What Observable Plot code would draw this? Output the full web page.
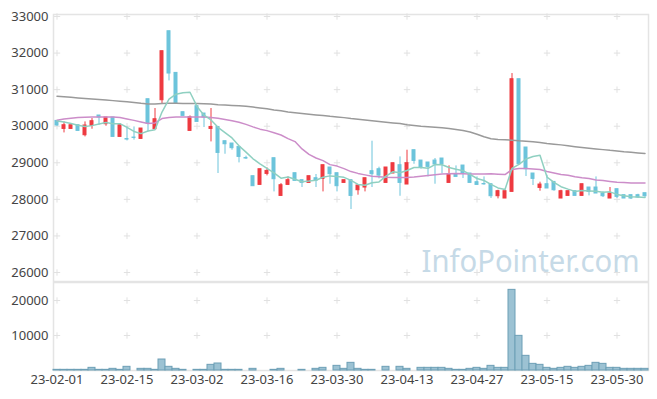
<!DOCTYPE html>
<html><head><meta charset="utf-8">
<script src="https://cdn.jsdelivr.net/npm/d3@7"></script>
<script src="https://cdn.jsdelivr.net/npm/@observablehq/plot@0.6"></script>
<style>
body{margin:0;background:#fff;font-family:"Noto Sans",sans-serif;}
#chart svg{display:block;}
</style></head><body><div id="chart"></div>
<script>
const dates = ["23-02-01","23-02-02","23-02-03","23-02-06","23-02-07","23-02-08","23-02-09","23-02-10","23-02-13","23-02-14","23-02-15","23-02-16","23-02-17","23-02-20","23-02-21","23-02-22","23-02-23","23-02-24","23-02-27","23-02-28","23-03-02","23-03-03","23-03-06","23-03-07","23-03-08","23-03-09","23-03-10","23-03-13","23-03-14","23-03-15","23-03-16","23-03-17","23-03-20","23-03-21","23-03-22","23-03-23","23-03-24","23-03-27","23-03-28","23-03-29","23-03-30","23-03-31","23-04-03","23-04-04","23-04-05","23-04-06","23-04-07","23-04-10","23-04-11","23-04-12","23-04-13","23-04-14","23-04-17","23-04-18","23-04-19","23-04-20","23-04-21","23-04-24","23-04-25","23-04-26","23-04-27","23-04-28","23-05-02","23-05-03","23-05-04","23-05-08","23-05-09","23-05-10","23-05-11","23-05-12","23-05-15","23-05-16","23-05-17","23-05-18","23-05-19","23-05-22","23-05-23","23-05-24","23-05-25","23-05-26","23-05-30","23-05-31","23-06-01","23-06-02","23-06-05"];

const opens = [30145,29926,29926,30027,29754,30008,30293,30055,30238,29708,
 29650,29690,29653,30738,29918,30711,32597,31458,30383,29872,
 30547,30347,29926,29980,29590,29527,29434,29130,28633,28396,
 28696,29125,28094,28396,28715,28524,28450,28578,28560,28871,
 28715,28450,28524,28250,28324,28770,28824,28450,28707,28934,
 28406,29344,29061,29008,29061,29117,28450,28688,28925,28707,
 28469,28420,28414,28086,28023,28205,31285,29418,28707,28313,
 28414,28477,28023,28095,28223,28095,28324,28324,28160,28023,
 28278,28114,28114,28114,28168];
const closes = [30020,30027,30027,29872,30019,30137,30238,30238,29708,30027,
 29636,29680,29937,30074,30191,32051,31441,30620,30282,30246,
 30118,30238,29980,29270,29508,29400,29161,29117,28360,28824,
 28778,28551,28387,28524,28505,28450,28633,28505,28934,28688,
 28360,28524,28094,28379,28578,28688,28650,28871,28988,28450,
 28988,29051,28871,28888,28953,28961,28688,28614,28707,28450,
 28395,28410,28086,28223,28223,31285,28961,28824,28560,28405,
 28297,28250,28223,28223,28095,28414,28205,28160,28086,28160,
 28068,28023,28023,28050,28086];
const highs = [30150,30118,30027,30027,30118,30210,30293,30238,30238,30074,
 29980,29980,29937,30738,30484,32051,32597,31458,30383,30282,
 30547,30347,30484,29980,29590,29527,29434,29180,28633,28824,
 28860,29125,28432,28614,28715,28524,28633,28680,28934,28871,
 28715,28524,28524,28379,28578,29590,28880,28871,28988,29161,
 29344,29344,29061,29008,29117,29117,28915,28915,28925,28707,
 28614,28614,28414,28250,28250,31440,31285,29418,28707,28469,
 28660,28477,28250,28223,28223,28414,28324,28614,28205,28324,
 28278,28114,28114,28140,28168];
const lows = [30000,29817,29926,29872,29708,29918,30027,30000,29708,29708,
 29598,29620,29653,29844,29918,30620,31239,30620,30282,29872,
 30118,29964,29571,28707,29234,29344,28997,29090,28360,28396,
 28642,28204,28094,28378,28505,28324,28450,28324,28204,28414,
 28204,28450,27723,28114,28204,28324,28560,28450,28707,28085,
 28406,28960,28824,28614,28414,28700,28450,28614,28570,28450,
 28378,28387,28023,28013,28023,28205,28961,28624,28378,28223,
 28297,28223,28023,28095,28095,28095,28095,28160,28050,28023,
 28023,28023,27995,28023,28040];
const volumes = [190,190,190,190,190,760,190,190,475,190,
 1050,0,475,475,190,3140,1050,475,190,0,
 190,190,1620,2000,190,190,190,0,475,0,
 0,190,475,0,0,190,0,475,760,0,
 1330,475,2190,475,190,190,0,1050,0,1050,
 475,0,760,760,760,760,475,190,190,475,
 760,475,1330,760,760,23040,9900,4190,1900,1620,
 760,475,760,1050,760,1050,1330,2190,1900,760,
 760,475,475,475,475];
// 5-day MA for the first four days (earlier closes not shown)
const ma5Head = [30145,30118,30074,30027];
const ma20 = [30164,30200,30220,30238,30245,30250,30255,30255,30250,30238,
 30200,30160,30118,30074,30090,30210,30240,30255,30255,30255,
 30255,30255,30240,30220,30183,30150,30109,30050,29982,29920,
 29880,29820,29760,29660,29580,29380,29230,29130,29060,28950,
 28910,28840,28760,28710,28670,28633,28620,28606,28600,28597,
 28600,28610,28630,28652,28675,28696,28700,28707,28700,28696,
 28696,28696,28700,28688,28679,28816,28843,28843,28830,28816,
 28760,28720,28680,28660,28620,28590,28570,28530,28515,28490,
 28469,28460,28450,28450,28450];
const ma120 = [30820,30805,30790,30775,30760,30745,30730,30715,30700,30685,
 30670,30650,30625,30605,30605,30620,30625,30625,30622,30620,
 30618,30615,30605,30590,30580,30570,30560,30547,30525,30500,
 30475,30445,30420,30391,30370,30350,30330,30310,30290,30270,
 30255,30235,30210,30191,30170,30150,30130,30110,30090,30074,
 30040,30020,30000,29985,29970,29955,29937,29910,29880,29844,
 29780,29710,29660,29640,29630,29617,29600,29590,29575,29555,
 29530,29510,29490,29465,29440,29418,29400,29380,29360,29340,
 29325,29305,29290,29270,29253];
const priceTicks = [26000,27000,28000,29000,30000,31000,32000,33000];
const volumeTicks = [10000,20000];
const dateTicks = [0,10,20,30,40,50,60,70,80];
const watermark = "InfoPointer.com";

const rows = dates.map((d, i) => ({
  i, date: d, o: opens[i], h: highs[i], l: lows[i], c: closes[i], v: volumes[i],
  ma5: i < 4 ? ma5Head[i] : d3.mean(closes.slice(i - 4, i + 1)),
  ma20: ma20[i], ma120: ma120[i]
}));

const up = "#ee3a40", down = "#6cc4db";
const col = d => d.c >= d.o ? up : down;
const gridColor = "#e1e1e1";
const frameColor = "#e4e4e4";
const style = {fontFamily: "'Noto Sans', sans-serif", fontSize: "13px", color: "#444", background: "#fff"};

const mainGrid = dateTicks.flatMap(x => priceTicks.map(y => ({x, y})));
const volGrid = dateTicks.flatMap(x => volumeTicks.map(y => ({x, y})));

const main = Plot.plot({
  width: 657, height: 282, marginLeft: 53, marginRight: 9, marginTop: 14, marginBottom: 1,
  style,
  x: {type: "linear", domain: [-0.5, 84.5], axis: null},
  y: {domain: [25754, 33055], ticks: priceTicks, tickFormat: d => String(d), tickSize: 0, tickPadding: 5, label: null},
  marks: [
    Plot.frame({stroke: frameColor, strokeWidth: 1.5}),
    Plot.dot(mainGrid, {x: "x", y: "y", symbol: "plus", r: 2.2, stroke: gridColor, strokeWidth: 1}),
    Plot.text([watermark], {frameAnchor: "bottom-right", dx: -9, dy: -10, fontSize: 31, fill: "#c6dae7", lineAnchor: "bottom"}),
    Plot.ruleX(rows, {x: "i", y1: "l", y2: "h", stroke: col, strokeWidth: 1}),
    Plot.rect(rows, {x1: d => d.i - 0.5, x2: d => d.i + 0.5, y1: "o", y2: "c", fill: col, stroke: col, strokeWidth: 1, insetLeft: 2, insetRight: 2}),
    Plot.lineY(rows, {x: "i", y: "ma120", stroke: "#9a9a9a", strokeWidth: 1.5}),
    Plot.lineY(rows, {x: "i", y: "ma20", stroke: "#cc8dc9", strokeWidth: 1.5}),
    Plot.lineY(rows, {x: "i", y: "ma5", stroke: "#8fd0c1", strokeWidth: 1.5})
  ]
});

const vol = Plot.plot({
  width: 657, height: 117, marginLeft: 53, marginRight: 9, marginTop: 0, marginBottom: 29,
  style,
  x: {type: "linear", domain: [-0.5, 84.5], ticks: dateTicks, tickFormat: i => dates[i], tickSize: 0, tickPadding: 4, label: null},
  y: {domain: [0, 25143], ticks: volumeTicks, tickFormat: d => String(d), tickSize: 0, tickPadding: 5, label: null},
  marks: [
    Plot.frame({stroke: frameColor, strokeWidth: 1.5}),
    Plot.dot(volGrid, {x: "x", y: "y", symbol: "plus", r: 2.2, stroke: gridColor, strokeWidth: 1}),
    Plot.rectY(rows.filter(d => d.v > 0), {x1: d => d.i - 0.5, x2: d => d.i + 0.5, y: "v", fill: "#9cc2d3", stroke: "#6d9fb6", strokeWidth: 1})
  ]
});

d3.select(main).selectAll("text").filter(function() { return this.textContent === watermark; })
  .attr("textLength", 218).attr("lengthAdjust", "spacingAndGlyphs");

document.getElementById("chart").append(main, vol);
</script></body></html>
